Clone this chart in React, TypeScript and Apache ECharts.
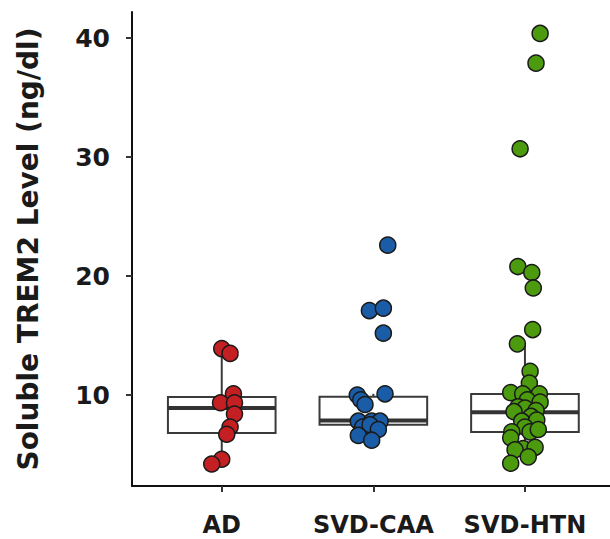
import React, { useEffect, useRef } from "react";
import * as echarts from "echarts";

const categories = ["AD", "SVD-CAA", "SVD-HTN"];
const yTicks = [10, 20, 30, 40];

// box stats: [lower whisker, Q1, median, Q3, upper whisker]
const adBox = [4.6, 6.8, 8.9, 9.83, 13.9];
const caaBox = [6.2, 7.5, 7.85, 9.86, 10.1];
const htnBox = [4.26, 6.9, 8.55, 10.08, 14.3];

// points: values and horizontal jitter (category units)
const adValues = [13.9, 13.5, 10.1, 9.35, 9.35, 8.4, 7.3, 6.7, 4.6, 4.2];
const adJitter = [0, 0.055, 0.077, -0.008, 0.084, 0.084, 0.055, 0.033, 0, -0.066];

const caaValues = [22.6, 17.1, 17.3, 15.2, 10.1, 10.0, 9.6, 9.2, 7.8, 7.8, 7.8, 7.3, 7.5, 7.1, 6.6, 6.2];
const caaJitter = [0.095, -0.026, 0.066, 0.066, 0.077, -0.106, -0.083, -0.055, -0.099, -0.011, 0.044, -0.07, -0.022, 0.033, -0.099, -0.011];

const htnValues = [40.4, 37.9, 30.7, 20.8, 20.3, 19.0, 15.5, 14.3, 12.0, 11.0, 10.2, 10.1, 10.1, 9.6, 9.4, 9.0, 8.9, 8.6, 8.7, 8.2, 7.8, 7.9, 7.3, 6.9, 6.9, 7.1, 6.4, 5.5, 5.6, 5.4, 4.8, 4.26];
const htnJitter = [0.1, 0.073, -0.032, -0.047, 0.045, 0.055, 0.051, -0.05, 0.034, 0.029, -0.094, -0.015, 0.095, 0.016, 0.1, -0.045, 0.001, -0.072, 0.073, 0.04, -0.021, 0.078, 0, -0.087, 0.034, 0.088, -0.094, -0.011, 0.067, -0.065, 0.022, -0.094];

const FONT = "DejaVu Sans";

function pts(values: number[], jitter: number[], idx: number) {
  return values.map((v, i) => [idx + 1 + jitter[i], v]);
}

export default function App() {
  const ref = useRef<HTMLDivElement>(null);
  useEffect(() => {
    if (!ref.current) return;
    const chart = echarts.init(ref.current, undefined, { renderer: "svg" });
    const boxes = [adBox, caaBox, htnBox].map((b, i) => [i + 1, ...b]);
    const dotStyle = (color: string) => ({
      color,
      borderColor: "#1a1a1a",
      borderWidth: 1.5,
      opacity: 1,
    });
    chart.setOption({
      animation: false,
      grid: { left: 132, right: 0, top: 12, bottom: 53, containLabel: false },
      xAxis: {
        type: "value",
        min: 0.408,
        max: 3.561,
        splitLine: { show: false },
        axisLine: { show: true, lineStyle: { color: "#111", width: 2 } },
        axisTick: { show: true, customValues: [1, 2, 3], length: 6, lineStyle: { color: "#333", width: 2 } },
        axisLabel: {
          customValues: [1, 2, 3],
          formatter: (v: number) => categories[Math.round(v) - 1] ?? "",
          fontFamily: FONT,
          fontWeight: "bold",
          fontSize: 24,
          lineHeight: 26,
          color: "#1a1a1a",
          margin: 26,
        },
      },
      yAxis: {
        type: "value",
        min: 2.35,
        max: 42.2,
        splitLine: { show: false },
        name: "Soluble TREM2 Level (ng/dl)",
        nameLocation: "middle",
        nameGap: 90,
        nameTextStyle: { fontFamily: FONT, fontWeight: "bold", fontSize: 28, color: "#1a1a1a" },
        axisLine: { show: true, lineStyle: { color: "#111", width: 2 } },
        axisTick: { show: true, customValues: yTicks, length: 6, lineStyle: { color: "#333", width: 2 } },
        axisLabel: {
          customValues: yTicks,
          fontFamily: FONT,
          fontWeight: "bold",
          fontSize: 25,
          color: "#1a1a1a",
          margin: 22,
        },
      },
      series: [
        {
          type: "custom",
          z: 1,
          data: boxes,
          renderItem: (params: any, api: any) => {
            const x = api.value(0);
            const lo = api.coord([x, api.value(1)]);
            const q1 = api.coord([x, api.value(2)]);
            const med = api.coord([x, api.value(3)]);
            const q3 = api.coord([x, api.value(4)]);
            const hi = api.coord([x, api.value(5)]);
            const w = api.size([0.71, 0])[0];
            const cx = lo[0];
            const stroke = { stroke: "#3a3a3a", lineWidth: 2 };
            return {
              type: "group",
              children: [
                { type: "line", shape: { x1: cx, y1: q3[1], x2: cx, y2: hi[1] }, style: stroke },
                { type: "line", shape: { x1: cx, y1: q1[1], x2: cx, y2: lo[1] }, style: stroke },
                { type: "rect", shape: { x: cx - w / 2, y: q3[1], width: w, height: q1[1] - q3[1] }, style: { fill: "#fff", ...stroke } },
                { type: "line", shape: { x1: cx - w / 2, y1: med[1], x2: cx + w / 2, y2: med[1] }, style: { stroke: "#333", lineWidth: 4 } },
              ],
            };
          },
        },
        { type: "scatter", z: 3, symbolSize: 16, data: pts(adValues, adJitter, 0), itemStyle: dotStyle("#c41f22") },
        { type: "scatter", z: 3, symbolSize: 16, data: pts(caaValues, caaJitter, 1), itemStyle: dotStyle("#1b5ca6") },
        { type: "scatter", z: 3, symbolSize: 16, data: pts(htnValues, htnJitter, 2), itemStyle: dotStyle("#4c9a0e") },
      ],
    });
    return () => chart.dispose();
  }, []);
  return <div ref={ref} style={{ width: 610, height: 539, position: "absolute", left: 0, top: 0 }} />;
}
